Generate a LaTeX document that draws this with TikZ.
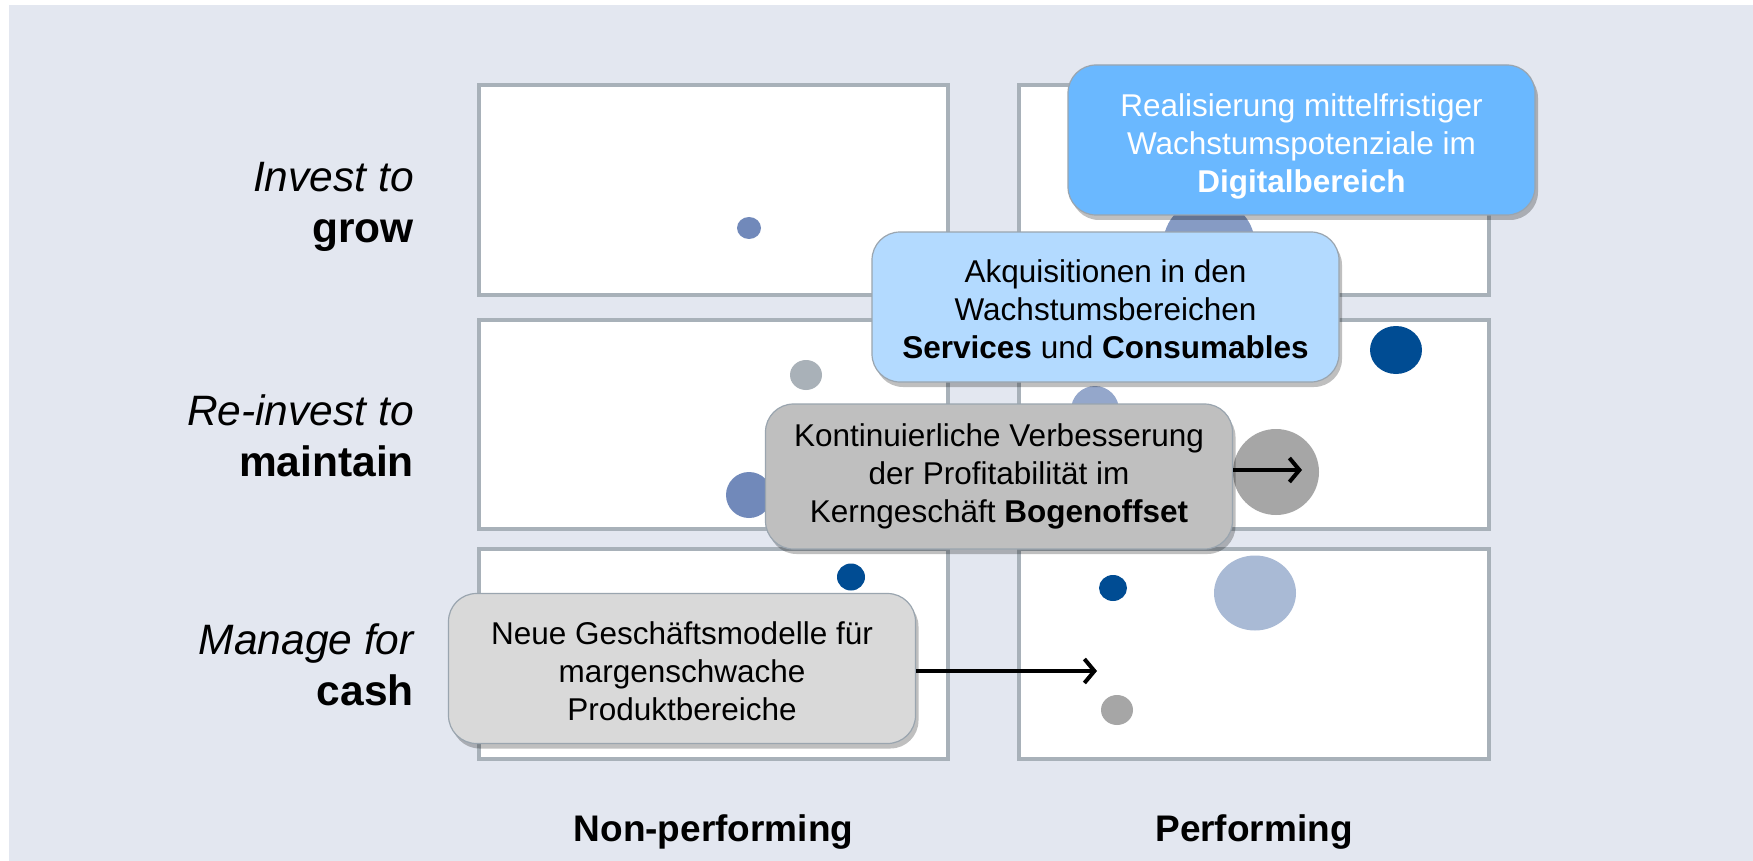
\documentclass[tikz,border=0pt]{standalone}
\usepackage{fontspec}
\setmainfont{Liberation Sans}
\usepackage{tikz}
\usetikzlibrary{arrows.meta,shadows}
\definecolor{fondo}{HTML}{E3E7F0}
\definecolor{rahmen}{HTML}{A8B1B9}
\definecolor{dunkelblau}{HTML}{004C93}
\definecolor{mittelblau}{HTML}{7189BA}
\definecolor{hellblau}{HTML}{A9BAD5}
\definecolor{grau}{HTML}{A6A6A6}
\definecolor{blaugrau}{HTML}{A9B1B8}
\definecolor{boxblau}{HTML}{6AB8FF}
\definecolor{boxhell}{HTML}{B3DAFF}
\definecolor{boxgrau}{HTML}{BFBFBF}
\definecolor{boxsilber}{HTML}{D9D9D9}
\definecolor{boxrand}{HTML}{9AA5AF}
% invisible strut to push the first line down
\newcommand{\kopfstrut}[1]{\rule{0pt}{#1}}

\begin{document}
\begin{tikzpicture}[x=1pt, y=-1pt,
  cell/.style={draw=rahmen, fill=white, line width=4pt},
  msg/.style={rectangle, draw=boxrand, line width=1.2pt, rounded corners=28pt,
    align=center, minimum width=467pt, minimum height=150pt, inner sep=0pt,
    font=\fontsize{31.5}{38}\selectfont,
    drop shadow={shadow xshift=3pt, shadow yshift=-5pt, opacity=0.25, fill=black}},
  rowlab/.style={anchor=base east, inner sep=0pt, font=\fontsize{42.5}{50}\selectfont},
  collab/.style={anchor=base, inner sep=0pt, font=\fontsize{37}{45}\selectfont\bfseries},
  arr/.style={-{Straight Barb[length=10pt, width=24pt]}, line width=4pt}
]
\useasboundingbox (0,0) rectangle (1753,861);
\fill[white] (0,0) rectangle (1753,861);
\fill[fondo] (9,5) rectangle (1753,861);

% Matrix
\draw[cell] (479,85)  rectangle (948,295);
\draw[cell] (1019,85) rectangle (1489,295);
\draw[cell] (479,320)  rectangle (948,529);
\draw[cell] (1019,320) rectangle (1489,529);
\draw[cell] (479,549)  rectangle (948,759);
\draw[cell] (1019,549) rectangle (1489,759);

% Bubbles
\fill[mittelblau] (749,228) ellipse [x radius=12, y radius=11];
\fill[mittelblau!85!white] (1209,245) circle [radius=46];
\fill[blaugrau] (806,375) ellipse [x radius=16, y radius=15];
\fill[mittelblau] (749,495) circle [radius=23];
\fill[mittelblau!75!white] (1095,410) circle [radius=24];
\fill[dunkelblau] (1396,350) ellipse [x radius=26, y radius=24];
\fill[grau] (1276,472) circle [radius=43];
\fill[dunkelblau] (851,577) ellipse [x radius=14, y radius=13.5];
\fill[dunkelblau] (1113,588) ellipse [x radius=14, y radius=13];
\fill[hellblau] (1255,593) ellipse [x radius=41, y radius=37.5];
\fill[grau] (1117,710) ellipse [x radius=16, y radius=15];

% Row and column labels
\node[rowlab] (grow1) at (414,192) {\itshape Invest to};
\node[rowlab] (grow2) at (414,242) {\bfseries grow};
\node[rowlab] (main1) at (414,425) {\itshape Re-invest to};
\node[rowlab] (main2) at (414,476) {\bfseries maintain};
\node[rowlab] (cash1) at (414,654) {\itshape Manage for};
\node[rowlab] (cash2) at (414,705) {\bfseries cash};
\node[collab] (nonperf) at (713.5,841) {Non-performing};
\node[collab] (perf) at (1254,841) {Performing};

% Messages
\node[msg, fill=boxblau, text=white] (digital) at (1301.5,140)
  {\kopfstrut{35pt}Realisierung mittelfristiger\\Wachstumspotenziale im\\\textbf{Digitalbereich}};
\node[msg, fill=boxhell] (akquise) at (1105.5,307)
  {\kopfstrut{28pt}Akquisitionen in den\\Wachstumsbereichen\\\textbf{Services} und \textbf{Consumables}};
\node[msg, fill=boxgrau, minimum height=145pt] (kern) at (999,476.5)
  {Kontinuierliche Verbesserung\\der Profitabilit\"at im\\Kerngesch\"aft \textbf{Bogenoffset}};
\node[msg, fill=boxsilber] (neu) at (682,668.5)
  {\kopfstrut{28pt}Neue Gesch\"aftsmodelle f\"ur\\margenschwache\\Produktbereiche};

\coordinate (spitzeA) at (1302,470);
\coordinate (spitzeB) at (1097,671);
\draw[arr] (kern.east |- spitzeA) -- (spitzeA);
\draw[arr] (neu.east |- spitzeB) -- (spitzeB);
\end{tikzpicture}
\end{document}
